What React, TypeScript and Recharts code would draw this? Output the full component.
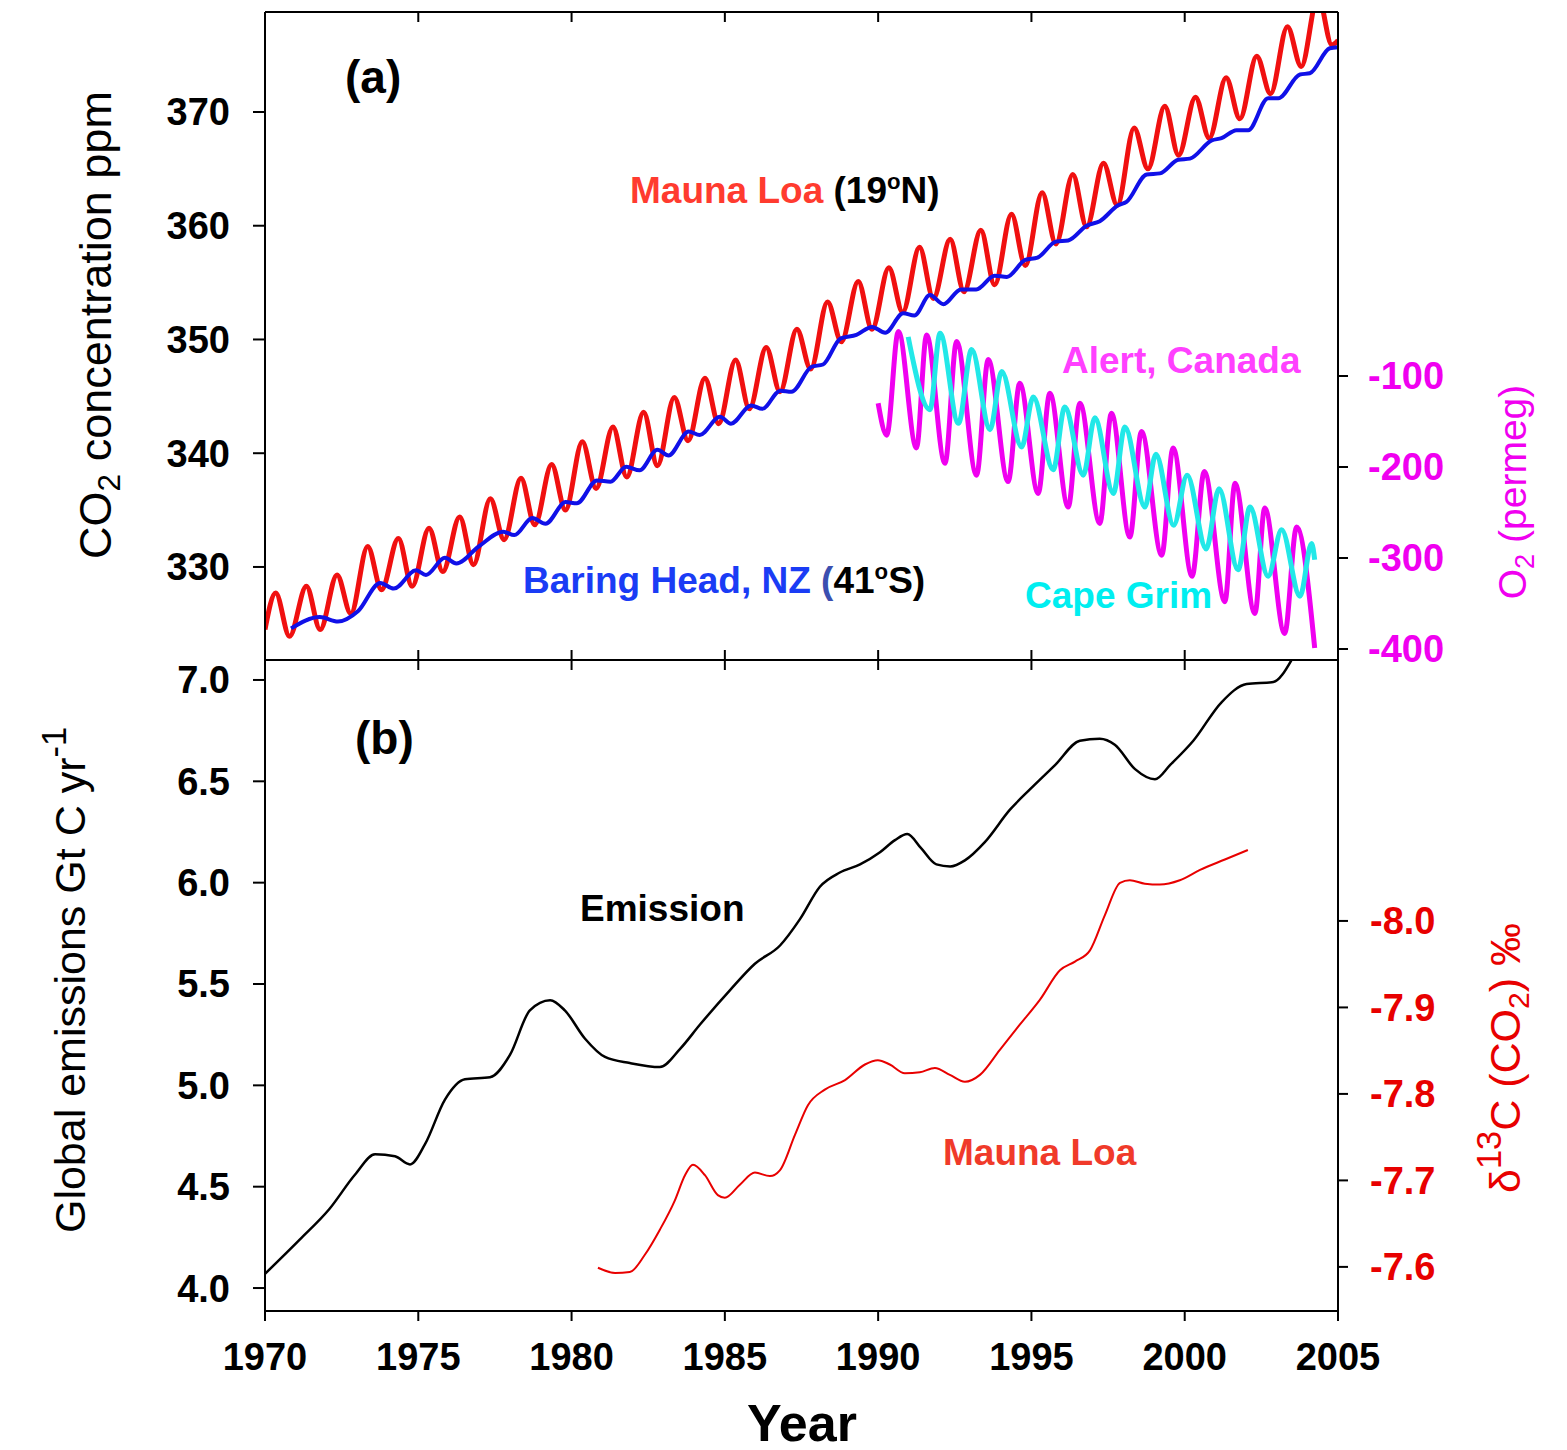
import React from "react";
import { LineChart, Line, XAxis, YAxis } from "recharts";

const FONT = '"Liberation Sans", Arial, Helvetica, sans-serif';

const YEAR_TICKS = [1970, 1975, 1980, 1985, 1990, 1995, 2000, 2005];
const CO2_TICKS = [330, 340, 350, 360, 370];
const O2_TICKS = [-400, -300, -200, -100];
const EMISSION_TICKS = [4.0, 4.5, 5.0, 5.5, 6.0, 6.5, 7.0];
const D13C_TICKS = [-8.0, -7.9, -7.8, -7.7, -7.6];

// Mauna Loa CO2 (ppm): yearly seasonal maximum (~May) and minimum (~Oct)
const mlYears = [
  1970, 1971, 1972, 1973, 1974, 1975, 1976, 1977, 1978, 1979, 1980, 1981,
  1982, 1983, 1984, 1985, 1986, 1987, 1988, 1989, 1990, 1991, 1992, 1993,
  1994, 1995, 1996, 1997, 1998, 1999, 2000, 2001, 2002, 2003, 2004,
];
const mlPeaks = [
  327.7, 328.3, 329.3, 331.8, 332.5, 333.4, 334.4, 336.0, 337.8, 339.0, 341.0,
  342.3, 343.6, 344.9, 346.6, 348.2, 349.3, 350.9, 353.3, 355.1, 356.3, 358.1,
  358.8, 359.6, 361.0, 362.9, 364.5, 365.5, 368.6, 370.5, 371.3, 373.0, 374.9,
  377.5, 380.2,
];
const mlTroughs = [
  323.9, 324.5, 325.9, 328.0, 328.3, 329.6, 330.2, 332.4, 333.7, 335.0, 336.9,
  337.9, 338.9, 341.1, 342.6, 343.9, 345.4, 347.4, 349.8, 350.9, 352.4, 353.6,
  354.2, 354.8, 356.5, 358.4, 359.9, 361.8, 365.0, 366.2, 367.7, 369.4, 371.6,
  374.0, 375.9,
];
const mlStart: [number, number] = [1970.0, 324.5];
const mlEnd: [number, number] = [2005.0, 376.3];

// Baring Head, NZ CO2 (ppm)
const baringHead: [number, number][] = [
  [1970.85, 324.6], [1971.79, 325.6], [1972.38, 325.2], [1973.03, 326.1],
  [1973.76, 328.6], [1974.2, 328.1], [1974.93, 329.7], [1975.25, 329.3],
  [1975.87, 330.8], [1976.24, 330.3], [1976.97, 331.8], [1977.77, 333.1],
  [1978.13, 332.8], [1978.72, 334.3], [1979.15, 333.8], [1979.81, 335.7],
  [1980.17, 335.6], [1980.83, 337.6], [1981.27, 337.5], [1981.78, 338.8],
  [1982.22, 338.5], [1982.8, 340.3], [1983.16, 339.8], [1983.82, 341.9],
  [1984.18, 341.6], [1984.84, 343.2], [1985.2, 342.6], [1985.86, 344.2],
  [1986.22, 343.9], [1986.81, 345.5], [1987.17, 345.4], [1987.83, 347.6],
  [1988.2, 347.8], [1988.78, 350.1], [1989.29, 350.4], [1989.8, 351.1],
  [1990.23, 350.6], [1990.82, 352.3], [1991.18, 352.1], [1991.69, 353.9],
  [1992.13, 353.1], [1992.7, 354.4], [1993.2, 354.4], [1993.8, 355.6],
  [1994.2, 355.5], [1994.8, 357.0], [1995.2, 357.2], [1995.8, 358.6],
  [1996.2, 358.7], [1996.8, 360.0], [1997.23, 360.4], [1997.83, 361.8],
  [1998.1, 362.1], [1998.76, 364.5], [1999.19, 364.6], [1999.79, 365.8],
  [2000.17, 365.9], [2000.88, 367.5], [2001.2, 367.7], [2001.69, 368.4],
  [2002.07, 368.4], [2002.72, 371.2], [2003.05, 371.2], [2003.76, 373.3],
  [2004.08, 373.4], [2004.73, 375.6], [2005.0, 375.7],
];

// O2 (per meg), Alert, Canada
const alertO2: [number, number][] = [
  [1990.0, -130], [1990.28, -165], [1990.66, -51], [1991.25, -179],
  [1991.58, -55], [1992.18, -196], [1992.56, -62], [1993.21, -209],
  [1993.59, -82], [1994.24, -216], [1994.62, -108], [1995.22, -229],
  [1995.6, -119], [1996.2, -244], [1996.58, -130], [1997.23, -262],
  [1997.61, -141], [1998.21, -277], [1998.59, -161], [1999.25, -297],
  [1999.62, -179], [2000.24, -320], [2000.64, -205], [2001.31, -348],
  [2001.64, -218], [2002.29, -361], [2002.61, -245], [2003.26, -383],
  [2003.65, -266], [2004.24, -399],
];

// O2 (per meg), Cape Grim
const capeGrimO2: [number, number][] = [
  [1990.98, -57], [1991.69, -137], [1992.02, -53], [1992.62, -152],
  [1993.05, -71], [1993.65, -159], [1994.03, -95], [1994.68, -178],
  [1995.06, -123], [1995.71, -203], [1996.09, -134], [1996.69, -209],
  [1997.07, -146], [1997.67, -229], [1998.05, -156], [1998.7, -244],
  [1999.06, -186], [1999.64, -264], [2000.08, -209], [2000.7, -290],
  [2001.12, -224], [2001.74, -313], [2002.13, -244], [2002.72, -320],
  [2003.16, -269], [2003.76, -342], [2004.14, -284], [2004.24, -302],
];

// Global fossil emissions (Gt C / yr)
const emission: [number, number][] = [
  [1970.0, 4.07], [1971.14, 4.24], [1972.1, 4.39], [1972.94, 4.56],
  [1973.59, 4.66], [1974.24, 4.65], [1974.73, 4.61], [1975.22, 4.71],
  [1975.87, 4.93], [1976.52, 5.03], [1977.34, 5.04], [1977.99, 5.15],
  [1978.64, 5.37], [1979.3, 5.42], [1979.78, 5.37], [1980.44, 5.23],
  [1981.09, 5.14], [1981.9, 5.11], [1982.88, 5.09], [1983.54, 5.18],
  [1984.19, 5.3], [1985.17, 5.47], [1985.98, 5.6], [1986.8, 5.69],
  [1987.45, 5.82], [1988.1, 5.98], [1988.75, 6.05], [1989.41, 6.09],
  [1990.06, 6.15], [1990.55, 6.21], [1990.95, 6.24], [1991.4, 6.17],
  [1991.9, 6.09], [1992.35, 6.08], [1992.83, 6.11], [1993.48, 6.2],
  [1994.3, 6.36], [1994.95, 6.46], [1995.77, 6.58], [1996.58, 6.7],
  [1997.23, 6.71], [1997.72, 6.68], [1998.38, 6.56], [1999.03, 6.51],
  [1999.52, 6.58], [2000.28, 6.7], [2001.2, 6.89], [2002.02, 6.98],
  [2002.89, 6.99], [2003.49, 7.1], [2003.7, 7.16],
];

// delta13C of CO2 (per mil), Mauna Loa
const d13c: [number, number][] = [
  [1980.86, -7.599], [1981.42, -7.593], [1981.9, -7.594], [1982.39, -7.614],
  [1982.88, -7.643], [1983.37, -7.677], [1983.7, -7.706], [1983.96, -7.718],
  [1984.35, -7.706], [1984.77, -7.683], [1985.0, -7.68], [1985.49, -7.695],
  [1985.98, -7.709], [1986.47, -7.705], [1986.8, -7.712], [1987.29, -7.753],
  [1987.71, -7.787], [1988.26, -7.805], [1988.92, -7.816], [1989.57, -7.834],
  [1989.99, -7.839], [1990.38, -7.834], [1990.87, -7.824], [1991.36, -7.825],
  [1991.85, -7.83], [1992.34, -7.822], [1992.83, -7.814], [1993.32, -7.822],
  [1993.97, -7.851], [1994.62, -7.88], [1995.28, -7.909], [1995.93, -7.943],
  [1996.42, -7.953], [1996.91, -7.966], [1997.4, -8.007], [1997.89, -8.044],
  [1998.21, -8.047], [1998.7, -8.043], [1999.19, -8.042], [1999.84, -8.047],
  [2000.5, -8.059], [2001.31, -8.071], [2002.06, -8.082],
];

const toPoints = (rows: [number, number][]) => rows.map(([x, y]) => ({ x, y }));

const maunaLoaRows: [number, number][] = [mlStart];
mlYears.forEach((yr, i) => {
  maunaLoaRows.push([yr + 0.35, mlPeaks[i]]);
  maunaLoaRows.push([yr + 0.8, mlTroughs[i]]);
});
maunaLoaRows.push(mlEnd);

const axisStroke = { stroke: "#000", strokeWidth: 2 };
const tickText = (fill: string) => ({
  fill,
  fontSize: 38,
  fontWeight: 700,
  fontFamily: FONT,
});
const noLabel = () => "";

function Note({
  left,
  top,
  size = 37,
  children,
}: {
  left: number;
  top: number;
  size?: number;
  children: React.ReactNode;
}) {
  return (
    <div
      style={{
        position: "absolute",
        left,
        top,
        fontSize: size,
        fontWeight: 700,
        lineHeight: 1,
        whiteSpace: "nowrap",
        transform: "translateY(-50%)",
        fontFamily: FONT,
      }}
    >
      {children}
    </div>
  );
}

function VTitle({
  cx,
  cy,
  size,
  color,
  children,
}: {
  cx: number;
  cy: number;
  size: number;
  color: string;
  children: React.ReactNode;
}) {
  return (
    <div
      style={{
        position: "absolute",
        left: cx,
        top: cy,
        fontSize: size,
        color,
        lineHeight: 1,
        whiteSpace: "nowrap",
        transform: "translate(-50%, -50%) rotate(-90deg)",
        fontFamily: FONT,
      }}
    >
      {children}
    </div>
  );
}

const supStyle: React.CSSProperties = { fontSize: "0.6em", verticalAlign: "0.6em", lineHeight: 0 };
const bigSupStyle: React.CSSProperties = { fontSize: "0.8em", verticalAlign: "0.55em", lineHeight: 0 };
const subStyle: React.CSSProperties = { fontSize: "0.7em", verticalAlign: "-0.3em", lineHeight: 0 };

export default function App() {
  return (
    <div style={{ position: "relative", width: 1559, height: 1442, fontFamily: FONT, background: "#fff" }}>
      <div style={{ position: "absolute", left: 0, top: 0 }}>
        <LineChart width={1559} height={680} margin={{ top: 0, right: 0, bottom: 20, left: 0 }}>
          <XAxis
            xAxisId="top"
            orientation="top"
            type="number"
            dataKey="x"
            domain={[1970, 2005]}
            ticks={YEAR_TICKS}
            interval={0}
            height={4}
            tickSize={-10}
            tickFormatter={noLabel}
            axisLine={axisStroke}
            tickLine={axisStroke}
            allowDataOverflow
          />
          <XAxis
            xAxisId="bottom"
            orientation="bottom"
            type="number"
            dataKey="x"
            domain={[1970, 2005]}
            ticks={YEAR_TICKS}
            interval={0}
            height={8}
            tickSize={-10}
            tickFormatter={noLabel}
            axisLine={axisStroke}
            tickLine={axisStroke}
            allowDataOverflow
          />
          <YAxis
            yAxisId="co2"
            orientation="left"
            width={257}
            type="number"
            domain={[321.82, 378.79]}
            ticks={CO2_TICKS}
            interval={0}
            tickSize={12}
            tickMargin={23}
            tick={tickText("#000")}
            axisLine={axisStroke}
            tickLine={axisStroke}
            allowDataOverflow
          />
          <YAxis
            yAxisId="o2"
            orientation="right"
            width={229}
            type="number"
            domain={[-412.1, 300]}
            ticks={O2_TICKS}
            interval={0}
            tickSize={10}
            tickMargin={20}
            tick={tickText("#f000f0")}
            axisLine={axisStroke}
            tickLine={axisStroke}
            allowDataOverflow
          />
          <Line
            xAxisId="bottom"
            yAxisId="co2"
            data={toPoints(maunaLoaRows)}
            dataKey="y"
            type="monotone"
            stroke="#f01010"
            strokeWidth={5}
            dot={false}
            activeDot={false}
            isAnimationActive={false}
          />
          <Line
            xAxisId="bottom"
            yAxisId="co2"
            data={toPoints(baringHead)}
            dataKey="y"
            type="monotone"
            stroke="#1010e8"
            strokeWidth={4}
            dot={false}
            activeDot={false}
            isAnimationActive={false}
          />
          <Line
            xAxisId="bottom"
            yAxisId="o2"
            data={toPoints(alertO2)}
            dataKey="y"
            type="monotone"
            stroke="#f000f0"
            strokeWidth={5}
            dot={false}
            activeDot={false}
            isAnimationActive={false}
          />
          <Line
            xAxisId="bottom"
            yAxisId="o2"
            data={toPoints(capeGrimO2)}
            dataKey="y"
            type="monotone"
            stroke="#22e8e8"
            strokeWidth={5}
            dot={false}
            activeDot={false}
            isAnimationActive={false}
          />
        </LineChart>
      </div>

      <div style={{ position: "absolute", left: 0, top: 644 }}>
        <LineChart width={1559} height={790} margin={{ top: 0, right: 0, bottom: 0, left: 0 }}>
          <XAxis
            xAxisId="top"
            orientation="top"
            type="number"
            dataKey="x"
            domain={[1970, 2005]}
            ticks={YEAR_TICKS}
            interval={0}
            height={8}
            tickSize={-10}
            tickFormatter={noLabel}
            axisLine={false}
            tickLine={axisStroke}
            allowDataOverflow
          />
          <XAxis
            xAxisId="bottom"
            orientation="bottom"
            type="number"
            dataKey="x"
            domain={[1970, 2005]}
            ticks={YEAR_TICKS}
            interval={0}
            height={131}
            tickSize={10}
            tickMargin={22}
            tick={tickText("#000")}
            axisLine={axisStroke}
            tickLine={axisStroke}
            allowDataOverflow
          />
          <YAxis
            yAxisId="em"
            orientation="left"
            width={257}
            type="number"
            domain={[3.8867, 7.0985]}
            ticks={EMISSION_TICKS}
            interval={0}
            tickSize={12}
            tickMargin={23}
            tickFormatter={(v: number) => v.toFixed(1)}
            tick={tickText("#000")}
            axisLine={axisStroke}
            tickLine={axisStroke}
            allowDataOverflow
          />
          <YAxis
            yAxisId="d13c"
            orientation="right"
            width={229}
            type="number"
            reversed
            domain={[-8.3017, -7.549]}
            ticks={D13C_TICKS}
            interval={0}
            tickSize={10}
            tickMargin={22}
            tickFormatter={(v: number) => v.toFixed(1)}
            tick={tickText("#e80000")}
            axisLine={axisStroke}
            tickLine={axisStroke}
            allowDataOverflow
          />
          <Line
            xAxisId="bottom"
            yAxisId="em"
            data={toPoints(emission)}
            dataKey="y"
            type="monotone"
            stroke="#000"
            strokeWidth={2.5}
            dot={false}
            activeDot={false}
            isAnimationActive={false}
          />
          <Line
            xAxisId="bottom"
            yAxisId="d13c"
            data={toPoints(d13c)}
            dataKey="y"
            type="monotone"
            stroke="#e80000"
            strokeWidth={2}
            dot={false}
            activeDot={false}
            isAnimationActive={false}
          />
        </LineChart>
      </div>

      <Note left={337} top={69} size={46}>(a)</Note>
      <Note left={347} top={730} size={46}>(b)</Note>
      <Note left={622} top={182}>
        <span style={{ color: "#ff3b2f" }}>Mauna Loa </span>
        <span style={{ color: "#000" }}>
          (19<span style={supStyle}>o</span>N)
        </span>
      </Note>
      <Note left={515} top={572}>
        <span style={{ color: "#1a3cf5" }}>Baring Head, NZ </span>
        <span style={{ color: "#3b4fb0" }}>(</span>
        <span style={{ color: "#000" }}>
          41<span style={supStyle}>o</span>S)
        </span>
      </Note>
      <Note left={1054} top={352}>
        <span style={{ color: "#ff40ff" }}>Alert, Canada</span>
      </Note>
      <Note left={1017} top={587}>
        <span style={{ color: "#00eef0" }}>Cape Grim</span>
      </Note>
      <Note left={572} top={900}>
        <span style={{ color: "#000" }}>Emission</span>
      </Note>
      <Note left={935} top={1144}>
        <span style={{ color: "#f03a2a" }}>Mauna Loa</span>
      </Note>
      <div
        style={{
          position: "absolute",
          left: 794,
          top: 1415,
          transform: "translate(-50%, -50%)",
          fontSize: 52,
          fontWeight: 700,
          lineHeight: 1,
          fontFamily: FONT,
        }}
      >
        Year
      </div>

      <VTitle cx={87} cy={317} size={45} color="#000">
        CO<span style={subStyle}>2</span> concentration ppm
      </VTitle>
      <VTitle cx={62} cy={972} size={43} color="#000">
        Global emissions Gt C yr<span style={bigSupStyle}>-1</span>
      </VTitle>
      <VTitle cx={1504} cy={484} size={39} color="#f000f0">
        O<span style={subStyle}>2</span> (permeg)
      </VTitle>
      <VTitle cx={1497} cy={1050} size={43} color="#e80000">
        δ<span style={bigSupStyle}>13</span>C (CO<span style={subStyle}>2</span>) ‰
      </VTitle>
    </div>
  );
}
